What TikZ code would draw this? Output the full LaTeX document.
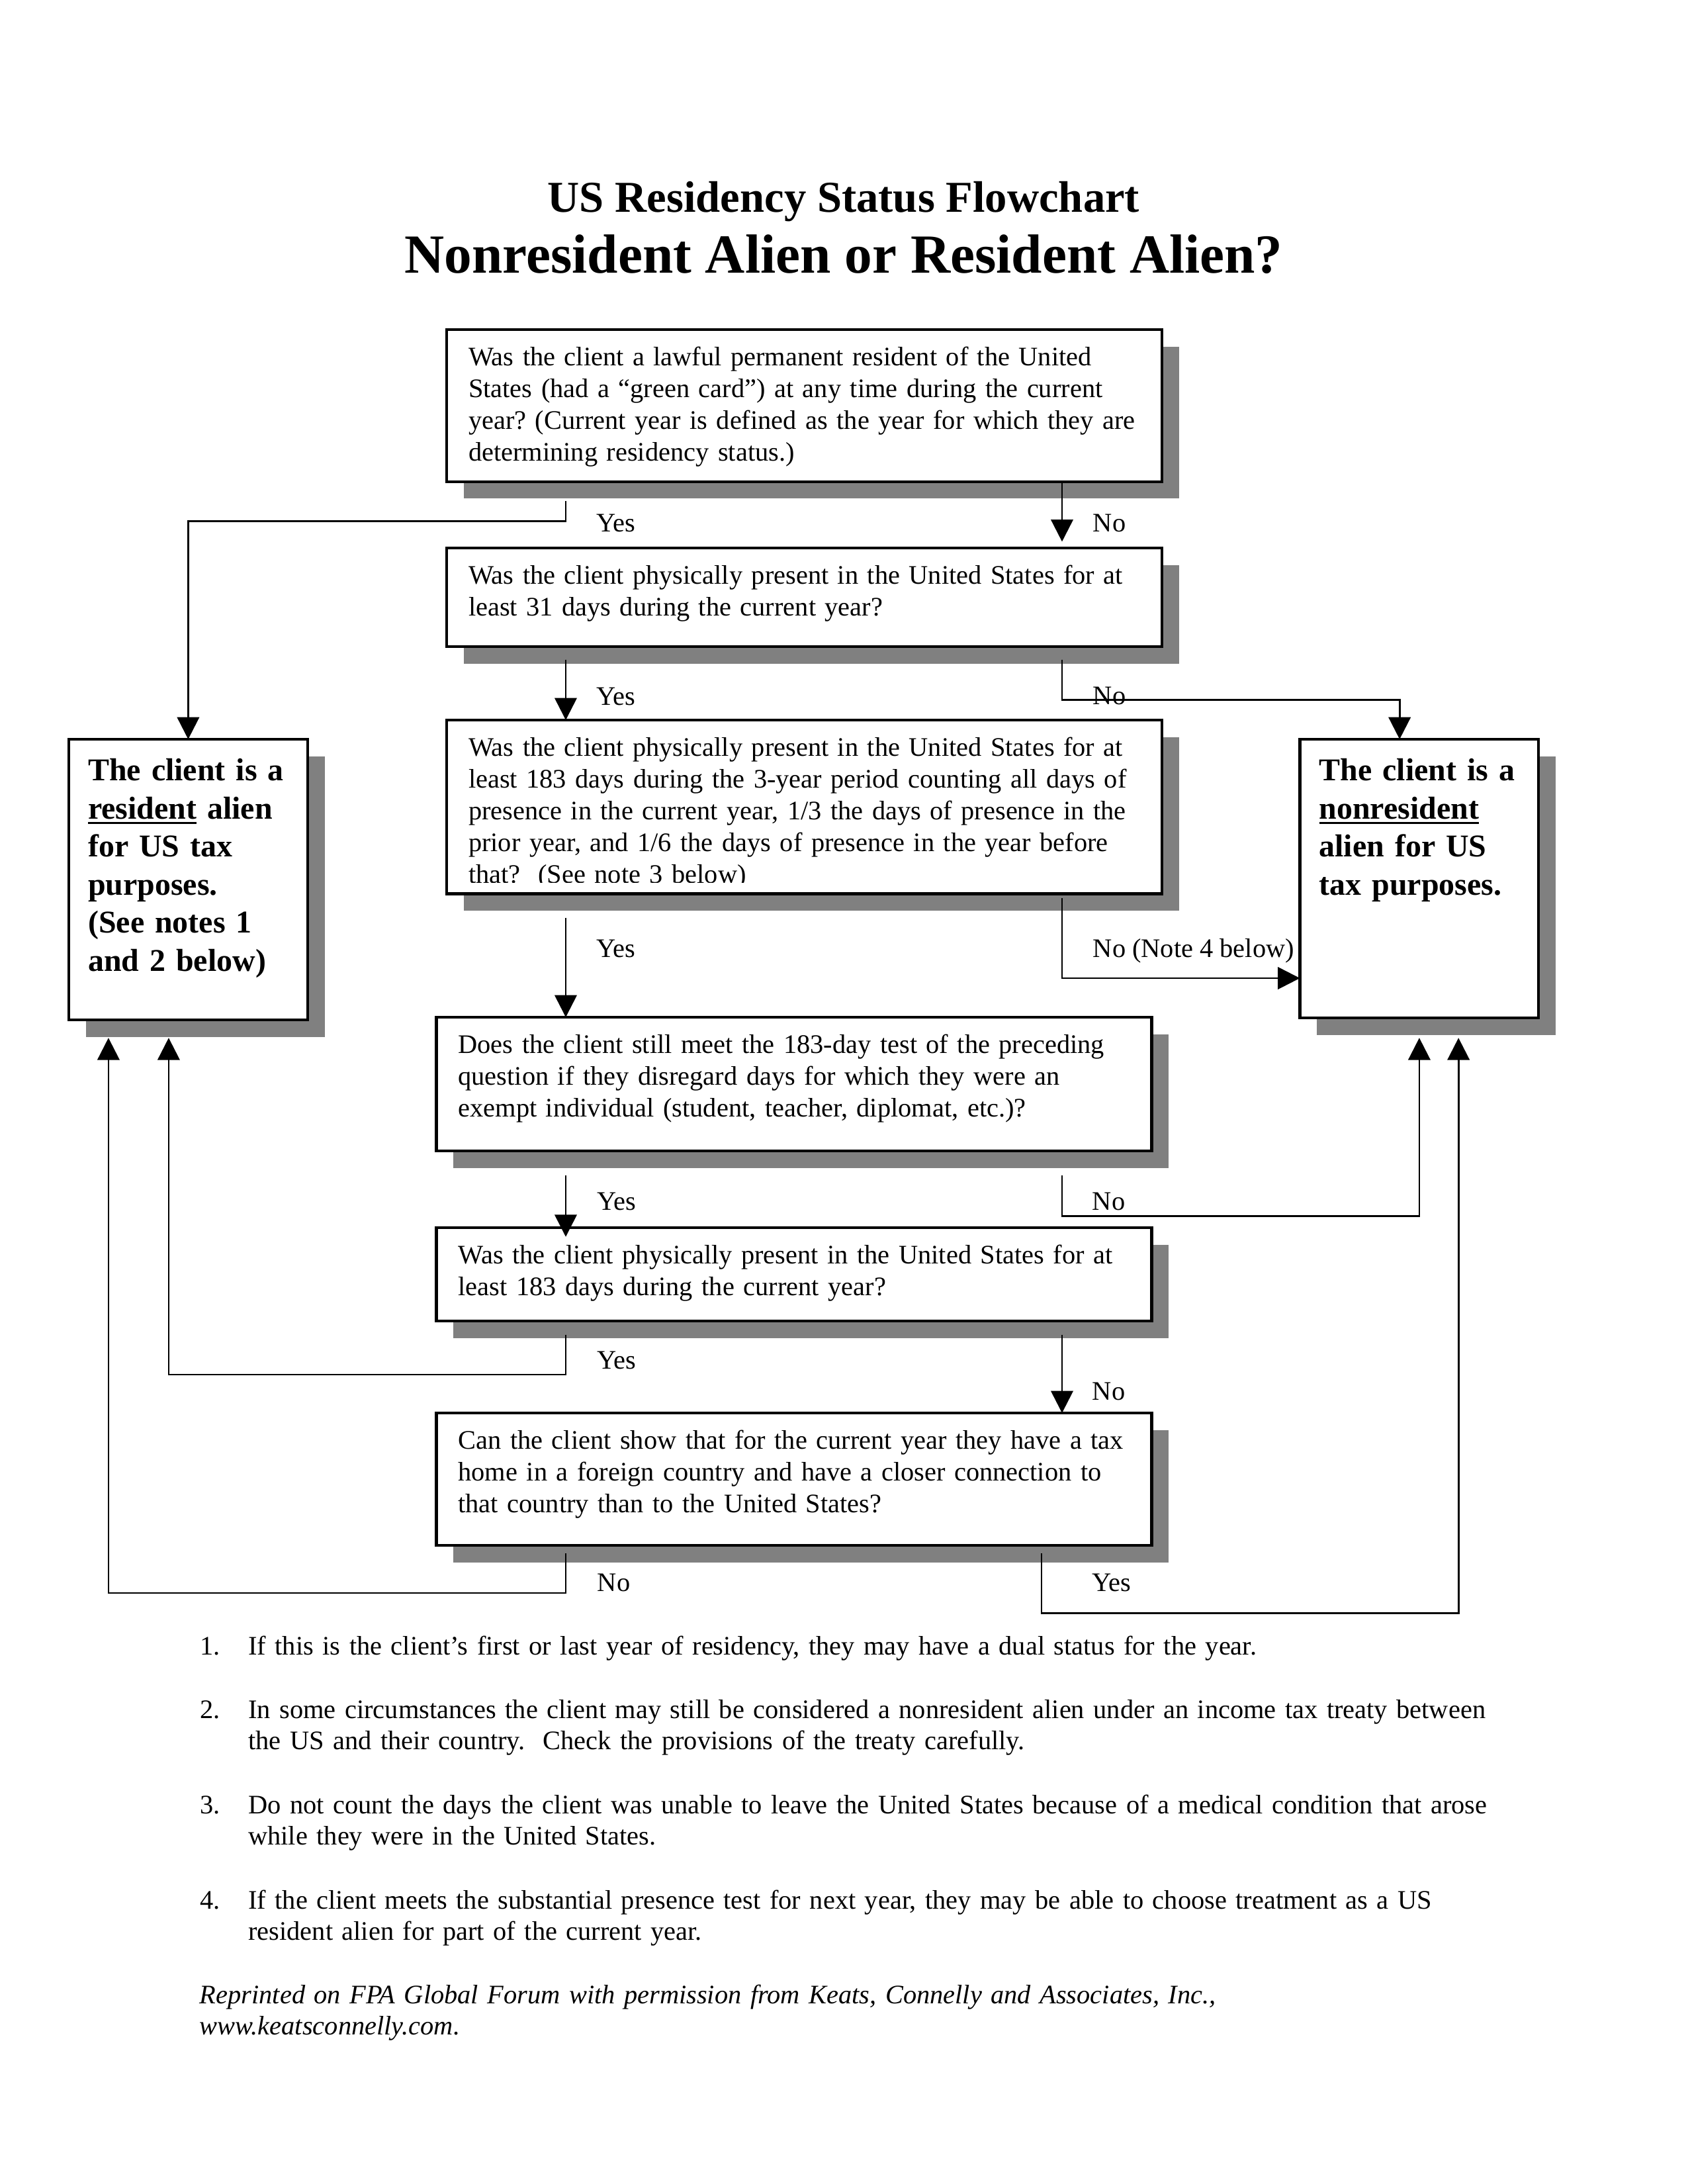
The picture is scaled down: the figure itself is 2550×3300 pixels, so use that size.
\documentclass[tikz,border=0pt]{standalone}
\usepackage{fontspec}
\setmainfont{Liberation Serif}
\usetikzlibrary{arrows.meta,calc,shadows}
\frenchspacing

\newcommand{\underrule}[1]{\leavevmode\setbox0\hbox{#1}\rlap{\rule[-2pt]{\wd0}{0.8pt}}\box0\relax}

\begin{document}
\begin{tikzpicture}[
x=0.24pt, y=-0.24pt,
font=\fontsize{9.7}{11.5}\selectfont,
qbox/.style={draw, line width=1pt, fill=white, anchor=north west, align=left,
  inner xsep=7.92pt, inner ysep=0pt, outer sep=0pt, text width=243.6pt, text height=13.1pt,
  drop shadow={shadow xshift=6.2pt, shadow yshift=-6.2pt, fill=gray, draw=none, opacity=1}},
endbox/.style={qbox, font=\fontsize{11.5}{13.8}\selectfont\bfseries, inner xsep=7pt, text width=72.6pt, text height=15pt},
lbl/.style={anchor=base west, inner sep=0pt},
link/.style={line width=0.65pt},
arr/.style={link, -{Triangle[length=8pt,width=8pt]}},
note/.style={anchor=base west, inner sep=0pt, align=left, text width=470pt},
]
\path[use as bounding box, fill=white] (0,0) rectangle (2550,3300);

%Title
\node[anchor=base, font=\fontsize{16}{19}\selectfont\bfseries] (title) at (1275,320) {US Residency Status Flowchart};
\node[anchor=base, font=\fontsize{20}{24}\selectfont\bfseries] (subtitle) at (1275,412) {Nonresident Alien or Resident Alien?};

%Questions
\node[qbox, text depth=42pt] (q1) at (675,498) {Was the client a lawful permanent resident of the United\\States (had a “green card”) at any time during the current\\year? (Current year is defined as the year for which they are\\determining residency status.)};
\node[qbox, text depth=22.7pt] (q2) at (675,828) {Was the client physically present in the United States for at\\least 31 days during the current year?};
\node[qbox, text depth=49.9pt] (q3) at (675,1088) {Was the client physically present in the United States for at\\least 183 days during the 3-year period counting all days of\\presence in the current year, 1/3 the days of presence in the\\prior year, and 1/6 the days of presence in the year before\\that?~ (See note 3 below)};
\fill[white] (678,1334) rectangle (1753,1348);
\node[qbox, text depth=35.4pt] (q4) at (659.5,1537) {Does the client still meet the 183-day test of the preceding\\question if they disregard days for which they were an\\exempt individual (student, teacher, diplomat, etc.)?};
\node[qbox, text depth=20.7pt] (q5) at (659.5,1855) {Was the client physically present in the United States for at\\least 183 days during the current year?};
\node[qbox, text depth=34.9pt] (q6) at (659.5,2135) {Can the client show that for the current year they have a tax\\home in a foreign country and have a closer connection to\\that country than to the United States?};

%Results
\node[endbox, text depth=86.8pt] (res) at (104,1117) {The client is a\\\underrule{resident} alien\\for US tax\\purposes.\\(See notes 1\\and 2 below)};
\node[endbox, text depth=86.1pt] (nonres) at (1964.5,1117) {The client is a\\\underrule{nonresident}\\alien for US\\tax purposes.};

%Labels
\node[lbl] (y1) at (901,803) {Yes};
\node[lbl] (n1) at (1651,803) {No};
\node[lbl] (y2) at (901,1065) {Yes};
\node[lbl] (n2) at (1651,1064) {No};
\node[lbl] (y3) at (901,1446) {Yes};
\node[lbl] (n3) at (1651,1446) {No (Note 4 below)};
\node[lbl] (y4) at (902,1828) {Yes};
\node[lbl] (n4) at (1650,1828) {No};
\node[lbl] (y5) at (902,2068) {Yes};
\node[lbl] (n5) at (1650,2115) {No};
\node[lbl] (n6) at (902,2404) {No};
\node[lbl] (y6) at (1650,2404) {Yes};

%Lines
\coordinate (q1yes) at (855,757);
\coordinate (q1no) at (1605,728);
\coordinate (q2yes) at (855,996.5);
\coordinate (q2no) at (1605,996.5);
\coordinate (q3yes) at (855,1386.5);
\coordinate (q3no) at (1605,1357);
\coordinate (q4yes) at (855,1776);
\coordinate (q4no) at (1605,1776);
\coordinate (q5yes) at (855,2016.6);
\coordinate (q5no) at (1605,2016.6);
\coordinate (q6no) at (855,2347);
\coordinate (q6yes) at (1574,2347);

\draw[arr] (q1yes) -- ++(0,30.4) -| (res.north);
\draw[arr, shorten >=2.3pt] (q1no) -- (q1no |- q2.north);
\draw[arr] (q2yes) -- (q2yes |- q3.north);
\draw[arr] (q2no) -- ++(0,61) -| ([xshift=-7.14pt]nonres.north);
\draw[arr] (q3yes) -- (q3yes |- q4.north);
\draw[arr] (q3no) -- ++(0,121) coordinate (q3bend) -- (q3bend -| nonres.west);
\draw[arr, shorten >=-3.3pt] (q4yes) -- (q4yes |- q5.north);
\draw[arr, shorten >=7.2pt] (q4no) -- ++(0,61.7) -| (nonres.south);
\draw[arr, shorten >=6.5pt] (q5yes) -- ++(0,60.4) -| ([xshift=-7.08pt]res.south);
\draw[arr] (q5no) -- (q5no |- q6.north);
\draw[arr, shorten >=6.5pt] (q6no) -- ++(0,60) -| ([xshift=-28.92pt]res.south);
\draw[arr, shorten >=7.2pt] (q6yes) -- ++(0,90.5) -| ([xshift=14.22pt]nonres.south);

%Notes
\node[note] (note1) at (374.5,2500) {\llap{1.\hspace{10.2pt}}If this is the client’s first or last year of residency, they may have a dual status for the year.};
\node[note] (note2) at (374.5,2596) {\llap{2.\hspace{10.2pt}}In some circumstances the client may still be considered a nonresident alien under an income tax treaty between\\the US and their country.~ Check the provisions of the treaty carefully.};
\node[note] (note3) at (374.5,2740) {\llap{3.\hspace{10.2pt}}Do not count the days the client was unable to leave the United States because of a medical condition that arose\\while they were in the United States.};
\node[note] (note4) at (374.5,2884) {\llap{4.\hspace{10.2pt}}If the client meets the substantial presence test for next year, they may be able to choose treatment as a US\\resident alien for part of the current year.};
\node[note, font=\fontsize{9.7}{11.3}\selectfont\itshape] (credit) at (301,3027) {Reprinted on FPA Global Forum with permission from Keats, Connelly and Associates, Inc.,\\www.keatsconnelly.com.};
\end{tikzpicture}
\end{document}
